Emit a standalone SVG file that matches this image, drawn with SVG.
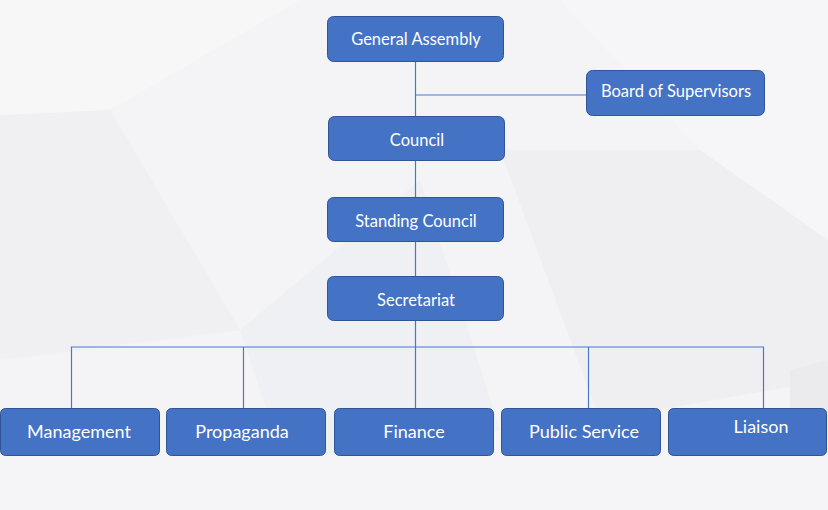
<svg xmlns="http://www.w3.org/2000/svg" width="828" height="510" viewBox="0 0 828 510">
<style>
.n rect{fill:#4472C4;stroke:#2F5597;stroke-width:1}
.n text{fill:#fff;font-family:Lato,"Open Sans",sans-serif;font-size:16.5px;text-anchor:middle;dominant-baseline:central}
.b text{font-size:18px}
.c{stroke:#4A78C8;stroke-width:1.2;fill:none}
</style>
<rect x="0" y="0" width="828" height="510" fill="#f4f4f6"/>
<g opacity="0.5">
<polygon points="0,0 300,0 110,110 0,120" fill="#fafafb"/>
<polygon points="0,115 110,110 240,330 0,360" fill="#eeeef1"/>
<polygon points="240,330 420,180 500,430 300,510" fill="#eceef1"/>
<polygon points="560,0 828,0 828,240 700,150" fill="#f9f9fa"/>
<polygon points="500,150 700,150 828,240 828,380 600,420" fill="#ececef"/>
<polygon points="0,455 828,455 828,510 0,510" fill="#f6f6f8"/>
<polygon points="790,370 828,360 828,440 790,440" fill="#e4e4e8"/>
</g>
<g id="connectors">
<line class="c" x1="415.5" y1="61" x2="415.5" y2="408"/>
<line class="c" x1="415.5" y1="95" x2="586" y2="95"/>
<polyline class="c" points="71.5,408 71.5,347 763.5,347 763.5,408"/>
<line class="c" x1="243.5" y1="347" x2="243.5" y2="408"/>
<line class="c" x1="588.5" y1="347" x2="588.5" y2="408"/>
</g>
<g id="general-assembly" class="n"><rect x="327.5" y="16.5" width="176" height="45" rx="6"/><text x="416" y="39">General Assembly</text></g>
<g id="board-of-supervisors" class="n"><rect x="586.5" y="70.5" width="178" height="45" rx="6"/><text x="676" y="91">Board of Supervisors</text></g>
<g id="council" class="n"><rect x="328.5" y="116.5" width="176" height="44" rx="6"/><text x="417" y="140">Council</text></g>
<g id="standing-council" class="n"><rect x="327.5" y="197.5" width="176" height="44" rx="6"/><text x="416" y="221">Standing Council</text></g>
<g id="secretariat" class="n"><rect x="327.5" y="276.5" width="176" height="44" rx="6"/><text x="416" y="300">Secretariat</text></g>
<g id="management" class="n b"><rect x="0.5" y="408.5" width="159" height="47" rx="5"/><text x="79" y="431">Management</text></g>
<g id="propaganda" class="n b"><rect x="166.5" y="408.5" width="159" height="47" rx="5"/><text x="242" y="431">Propaganda</text></g>
<g id="finance" class="n b"><rect x="334.5" y="408.5" width="159" height="47" rx="5"/><text x="414" y="431">Finance</text></g>
<g id="public-service" class="n b"><rect x="501.5" y="408.5" width="159" height="47" rx="5"/><text x="584" y="431">Public Service</text></g>
<g id="liaison" class="n b"><rect x="668.5" y="408.5" width="158" height="47" rx="5"/><text x="761" y="426">Liaison</text></g>
</svg>
